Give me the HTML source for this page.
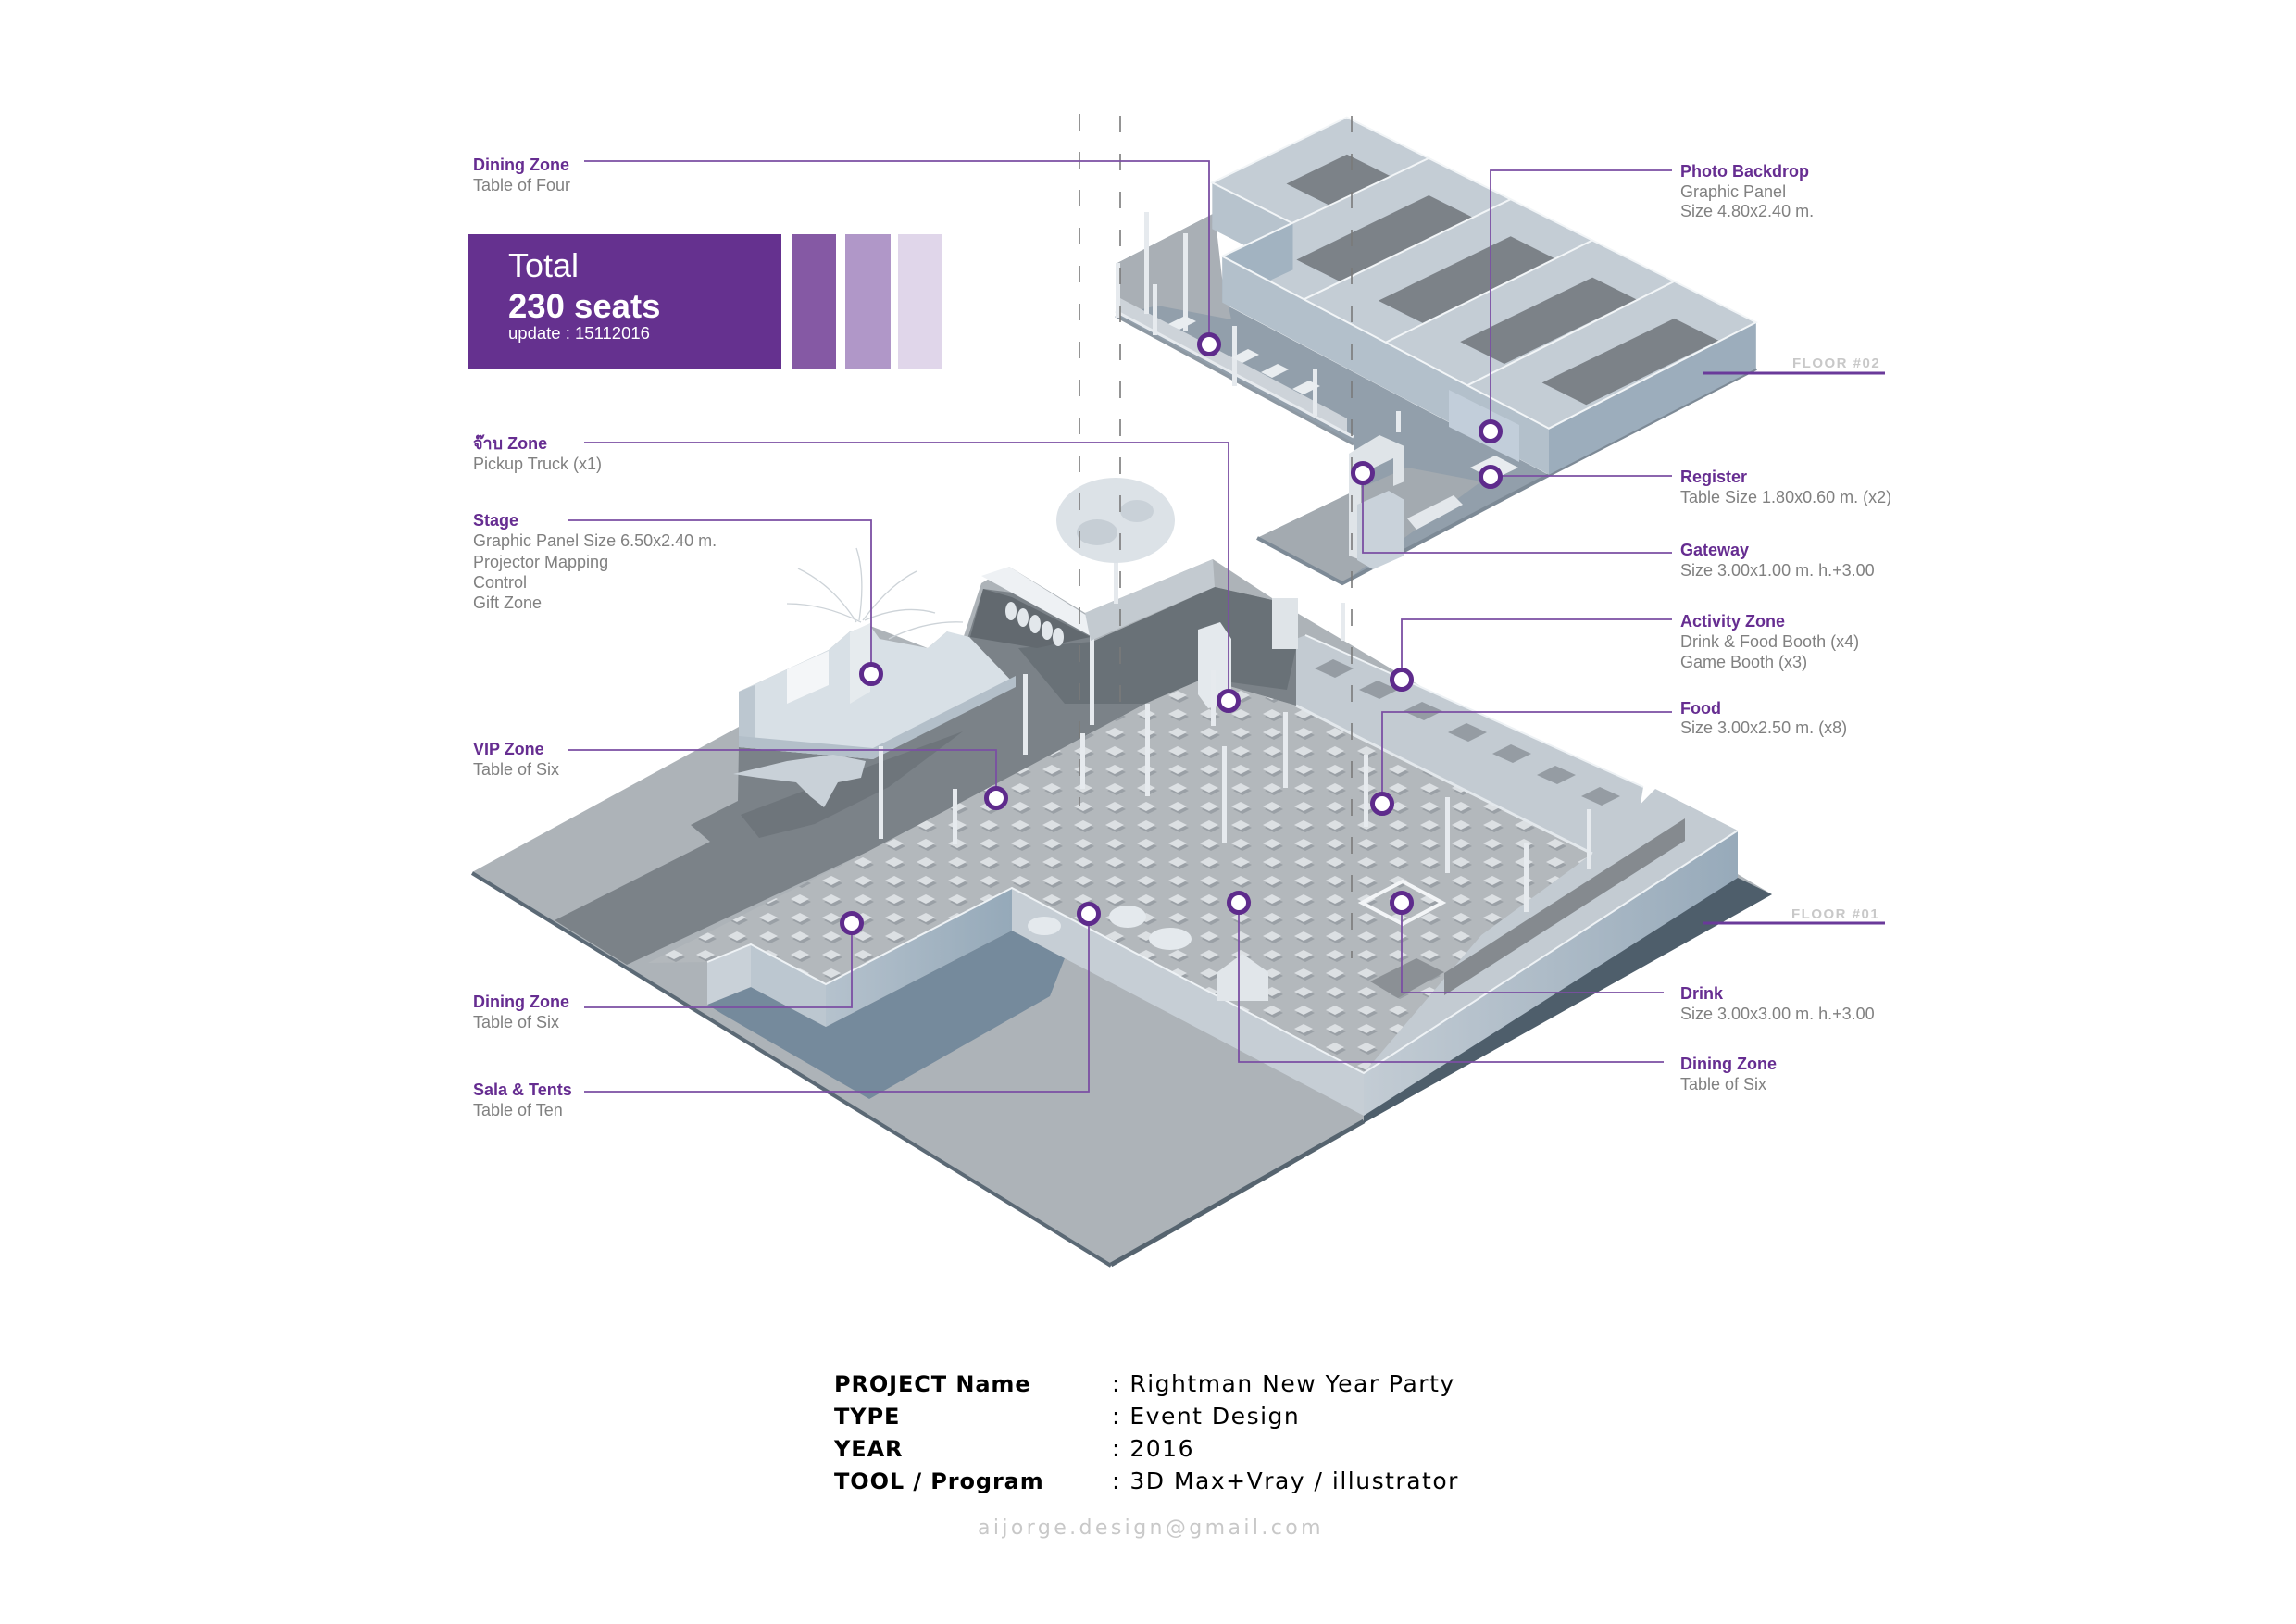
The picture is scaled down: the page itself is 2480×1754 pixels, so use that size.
<!DOCTYPE html>
<html><head><meta charset="utf-8">
<style>
html,body{margin:0;padding:0;background:#fff;}
svg{display:block;}
.lb{font-family:"Liberation Sans",Arial,sans-serif;font-weight:bold;font-size:18px;fill:#662d91;}
.ls{font-family:"Liberation Sans",Arial,sans-serif;font-size:18px;fill:#808080;}
.th{font-family:"Liberation Sans","DejaVu Sans","Noto Sans CJK SC",sans-serif;font-weight:bold;font-size:18px;fill:#662d91;}
.ld{stroke:#7b4fa3;stroke-width:1.8;fill:none;}
.dot{fill:#fff;stroke:#5e2b8c;stroke-width:5;}
.fl{font-family:"Liberation Sans",Arial,sans-serif;font-weight:bold;font-size:15px;fill:#c8c8c8;letter-spacing:1.5px;}
.pk{font-family:"DejaVu Sans","Liberation Sans",sans-serif;font-weight:bold;font-size:24px;fill:#000;letter-spacing:0.9px;}
.pv{font-family:"DejaVu Sans","Liberation Sans",sans-serif;font-size:25px;fill:#000;letter-spacing:1.5px;}
.post{fill:#e6eaee;}
</style></head><body>
<svg width="2480" height="1754" viewBox="0 0 2480 1754" xmlns="http://www.w3.org/2000/svg">
<defs>
<pattern id="tb" patternUnits="userSpaceOnUse" width="34" height="20">
<polygon points="6,14 16,9 26,14 16,19" fill="#8f969c"/>
<polygon points="4,11 14,6 24,11 14,16" fill="#eef1f4"/>
</pattern>
<linearGradient id="gfe" gradientUnits="userSpaceOnUse" x1="1473" y1="0" x2="1877" y2="0">
<stop offset="0" stop-color="#c3ccd4"/><stop offset="1" stop-color="#97aaba"/>
</linearGradient>
<linearGradient id="gfc" gradientUnits="userSpaceOnUse" x1="892" y1="0" x2="1093" y2="0">
<stop offset="0" stop-color="#b5c2cd"/><stop offset="1" stop-color="#95a9b9"/>
</linearGradient>
</defs>

<!-- ================= LOWER FLOOR ================= -->
<polygon points="510,942 798,785 798,747 895,702 918,682 940,676 1002,700 1023,682 1040,690 1060,630 1090,612 1172,662 1310,604 1374,646 1914,966 1200,1366" fill="#adb3b8"/>
<!-- dark ground between stage and event floor -->
<polygon points="599,994 677,1042 937,920 1113,827 1237,760 1300,733 1400,762 1400,690 1374,648 1312,634 1180,693 1172,670 1093,640 1062,636 1045,690 1097,740 943,820 798,807 797,865 746,891 767,909" fill="#7b8288"/>
<polygon points="1100,700 1180,693 1312,634 1374,648 1400,700 1390,745 1300,733 1237,760 1150,760" fill="#697177"/>
<polygon points="800,880 943,826 1040,790 960,850 880,890 820,905" fill="#6e757b"/>
<polygon points="1062,636 1093,645 1178,688 1120,700 1048,688" fill="#62696f"/>
<!-- event floor -->
<polygon points="700,1040 937,920 1113,827 1237,760 1300,733 1400,762 1455,790 1720,922 1600,1010 1473,1159 1093,959 892,1063 811,1020 764,1039" fill="#b3b8bc"/>
<polygon points="700,1040 937,920 1113,827 1237,760 1300,733 1400,762 1455,790 1720,922 1600,1010 1473,1159 1093,959 892,1063 811,1020 764,1039" fill="url(#tb)" opacity="0.7"/>
<!-- right zone -->
<polygon points="1473,1159 1877,897 1788,852 1720,922 1600,1010" fill="#c3cbd2"/>
<polygon points="1560,1051 1820,884 1820,908 1560,1075" fill="#858a8f"/>
<polygon points="1480,1060 1530,1035 1560,1050 1510,1078" fill="#8b9095"/>
<polygon points="1471,975 1515,952 1558,975 1515,998" fill="none" stroke="#f3f5f7" stroke-width="4"/>
<!-- booth row -->
<polygon points="1400,690 1410,686 1775,850 1770,880 1720,922 1455,790 1400,762" fill="#c3cbd2"/>
<g fill="#959ca3">
<polygon points="1420,722 1440,712 1462,722 1442,732"/>
<polygon points="1468,745 1488,735 1510,745 1490,755"/>
<polygon points="1516,768 1536,758 1558,768 1538,778"/>
<polygon points="1564,791 1584,781 1606,791 1586,801"/>
<polygon points="1612,814 1632,804 1654,814 1634,824"/>
<polygon points="1660,837 1680,827 1702,837 1682,847"/>
<polygon points="1708,860 1728,850 1750,860 1730,870"/>
</g>
<polyline points="1410,686 1775,850" stroke="#eef2f5" stroke-width="2" fill="none"/>
<polyline points="1400,762 1455,790 1720,922" stroke="#e3e8ec" stroke-width="3" fill="none"/>
<rect x="1374" y="646" width="28" height="55" fill="#dfe4e8"/>
<!-- cast shadow -->
<polygon points="764,1085 811,1066 892,1109 1093,1005 1150,1035 1134,1076 939,1187 780,1095" fill="#758a9c"/>
<!-- walls -->
<polygon points="764,1039 811,1020 811,1066 764,1085" fill="#c9d1d8"/>
<polygon points="811,1020 892,1063 892,1109 811,1066" fill="#bcc7d0"/>
<polygon points="892,1063 1093,959 1093,1005 892,1109" fill="url(#gfc)"/>
<polygon points="1093,959 1473,1159 1473,1205 1093,1005" fill="#c6ced5"/>
<polygon points="1473,1159 1877,897 1877,949 1473,1205" fill="url(#gfe)"/>
<polyline points="764,1039 811,1020 892,1063 1093,959 1473,1159 1877,897" stroke="#eef2f5" stroke-width="2" fill="none"/>
<!-- slab edges -->
<polygon points="1877,948 1914,966 1473,1213 1473,1205" fill="#4e5e6b"/>
<polyline points="1473,1211 1200,1366" stroke="#56646f" stroke-width="5" fill="none"/>
<polyline points="510,943 1200,1367" stroke="#5b6975" stroke-width="4" fill="none"/>
<!-- stage complex -->
<polygon points="798,747 895,702 918,682 940,676 950,690 1002,700 1023,682 1047,688 1097,740 943,820 798,807" fill="#d8e0e6"/>
<polygon points="798,747 815,740 815,800 798,807" fill="#bcc7d0"/>
<polygon points="798,795 943,808 1097,730 1097,742 943,820 798,807" fill="#b3bfc9"/>
<polygon points="850,723 895,703 895,740 850,760" fill="#f4f6f8"/>
<polygon points="918,683 940,673 940,747 918,760" fill="#e6ebee"/>
<g stroke="#cdd3d8" stroke-width="1.3" fill="none">
<path d="M925,672 Q900,632 862,614"/>
<path d="M928,670 Q935,622 925,592"/>
<path d="M932,670 Q960,632 990,617"/>
<path d="M930,672 Q890,652 850,652"/>
<path d="M934,670 Q975,652 1010,662"/>
<path d="M960,690 Q1000,670 1040,672"/>
</g>
<!-- dinosaur -->
<polygon points="792,836 850,822 900,815 935,822 930,840 905,845 890,872 875,860 860,845 820,840" fill="#c9d1d8"/>
<!-- bar, hedge, tree, truck -->
<polygon points="1060,622 1090,612 1182,670 1180,688" fill="#eef1f4"/>
<rect x="1177" y="686" width="5" height="97" fill="#e6eaee"/>
<g fill="#e2e7eb">
<ellipse cx="1092" cy="660" rx="6" ry="10"/><ellipse cx="1105" cy="667" rx="6" ry="10"/>
<ellipse cx="1118" cy="674" rx="6" ry="10"/><ellipse cx="1131" cy="681" rx="6" ry="10"/>
<ellipse cx="1143" cy="688" rx="6" ry="10"/>
</g>
<polygon points="1172,662 1310,604 1312,634 1178,692" fill="#c3cad0"/>
<rect x="1203" y="600" width="5" height="52" fill="#e5e9ed"/>
<ellipse cx="1205" cy="562" rx="64" ry="46" fill="#dce2e7"/>
<ellipse cx="1185" cy="575" rx="22" ry="14" fill="#c6ced5"/>
<ellipse cx="1228" cy="552" rx="18" ry="12" fill="#c9d1d8"/>
<polygon points="1294,680 1318,672 1330,690 1330,760 1305,765 1294,750" fill="#e4e9ed"/>
<!-- gazebo & umbrellas -->
<polygon points="1315,1050 1342,1030 1370,1050 1370,1081 1315,1081" fill="#e1e6ea"/>
<ellipse cx="1218" cy="990" rx="20" ry="12" fill="#e4e9ed"/>
<ellipse cx="1264" cy="1014" rx="23" ry="12" fill="#e4e9ed"/>
<ellipse cx="1128" cy="1000" rx="18" ry="10" fill="#e4e9ed"/>
<!-- posts -->
<g class="post">
<rect x="949" y="806" width="5" height="100"/><rect x="1029" y="852" width="5" height="60"/>
<rect x="1105" y="728" width="5" height="87"/><rect x="1167" y="792" width="5" height="60"/>
<rect x="1237" y="760" width="5" height="100"/><rect x="1320" y="806" width="5" height="105"/>
<rect x="1386" y="769" width="5" height="82"/><rect x="1473" y="815" width="5" height="78"/>
<rect x="1561" y="861" width="5" height="82"/><rect x="1646" y="911" width="5" height="74"/>
<rect x="1714" y="874" width="5" height="65"/><rect x="1308" y="724" width="5" height="60"/>
<rect x="1448" y="651" width="5" height="41"/>
</g>

<!-- ================= UPPER FLOOR ================= -->
<polygon points="1205,285 1312,230 1320,327 1673,513 1450,630 1358,581 1470,527 1462,480 1205,341" fill="#929fab"/>
<polygon points="1205,285 1312,230 1320,300 1330,345 1250,330 1205,341" fill="#a9afb5"/>
<polygon points="1358,581 1470,527 1520,505 1600,520 1450,630" fill="#a3aab0"/>
<polygon points="1210,322 1455,452 1455,470 1210,338" fill="#cdd3d9"/>
<polyline points="1205,336 1462,472" stroke="#e6eaee" stroke-width="3" fill="none"/>
<polyline points="1358,581 1450,630 1673,513 1897,398" stroke="#7d8a96" stroke-width="4" fill="none"/>
<polyline points="1205,341 1462,480" stroke="#8d98a2" stroke-width="3" fill="none"/>
<!-- box -->
<polygon points="1309.3,197.3 1454.8,126.6 1896.8,348.1 1673,462.7 1320.3,276.8 1396.5,241.4" fill="#c4cdd5"/>
<g fill="#7c8288">
<polygon points="1389.5,198.5 1454.9,166.7 1502.6,190.6 1437.2,222.4"/>
<polygon points="1400.4,280.5 1543.3,211.0 1591.0,234.9 1448.1,304.4"/>
<polygon points="1488.8,324.8 1631.7,255.3 1679.4,279.2 1536.5,348.7"/>
<polygon points="1577.2,369.1 1720.1,299.6 1767.8,323.5 1624.9,393.0"/>
<polygon points="1665.6,413.4 1808.5,343.9 1856.2,367.8 1713.3,437.3"/>
</g>
<polygon points="1309.3,197.3 1396.5,241.4 1396.5,291.4 1309.3,247.3" fill="#b7c3cd"/>
<polygon points="1320.3,276.8 1396.5,241.4 1396.5,291.4 1320.3,326.8" fill="#a2b3c1"/>
<polygon points="1320.3,276.8 1673,462.7 1673,512.7 1320.3,326.8" fill="#b3c0cb"/>
<polygon points="1673,462.7 1896.8,348.1 1896.8,398 1673,512.7" fill="#9cadbc"/>
<g stroke="#f2f5f7" stroke-width="2" fill="none">
<polyline points="1396.5,241.4 1309.3,197.3 1454.8,126.6 1896.8,348.1 1673,462.7 1320.3,276.8 1543.2,170.9"/>
<line x1="1408.5" y1="323.3" x2="1631.6" y2="215.2"/>
<line x1="1496.7" y1="369.8" x2="1720" y2="259.5"/>
<line x1="1584.9" y1="416.3" x2="1808.4" y2="303.8"/>
</g>
<!-- backdrop, gateway, register -->
<polygon points="1565,421 1641,459 1641,499 1565,461" fill="#c2ceda"/>
<polygon points="1588,505 1615,492 1640,505 1613,518" fill="#e8ecef"/>
<polygon points="1457,490 1490,470 1517,482 1517,520 1505,525 1505,495 1470,512 1470,605 1457,600" fill="#dfe4e8"/>
<polygon points="1466,545 1500,530 1517,540 1517,600 1483,615 1466,605" fill="#c9d2da"/>
<polygon points="1520,560 1570,535 1580,545 1530,572" fill="#e3e7eb"/>
<g class="post">
<rect x="1205" y="284" width="5" height="59"/><rect x="1236" y="229" width="5" height="110"/>
<rect x="1278" y="252" width="5" height="105"/><rect x="1245" y="307" width="5" height="55"/>
<rect x="1331" y="352" width="5" height="65"/>
<rect x="1418" y="398" width="5" height="51"/><rect x="1508" y="444" width="5" height="23"/>
</g>
<g fill="#e9edf0">
<polygon points="1262,350 1280,341 1292,347 1274,356"/>
<polygon points="1330,386 1348,377 1360,383 1342,392"/>
<polygon points="1362,402 1380,393 1392,399 1374,408"/>
<polygon points="1396,420 1414,411 1426,417 1408,426"/>
</g>

<!-- dashed guides -->
<g stroke="#7a7a7a" stroke-width="1.6" stroke-dasharray="18 23" fill="none">
<line x1="1166" y1="123" x2="1166" y2="870"/>
<line x1="1210" y1="125" x2="1210" y2="770"/>
<line x1="1460" y1="125" x2="1460" y2="1035"/>
</g>

<!-- leader lines -->
<g class="ld">
<path d="M631,174 H1306 V372"/>
<path d="M631,478 H1327 V757"/>
<path d="M613,562 H941 V728"/>
<path d="M613,810 H1076 V862"/>
<path d="M631,1088 H920 V997"/>
<path d="M631,1179 H1176 V987"/>
<path d="M1806,184 H1610 V466"/>
<path d="M1806,514 H1610"/>
<path d="M1806,597 H1472 V511"/>
<path d="M1806,669 H1514 V734"/>
<path d="M1806,769 H1493 V868"/>
<path d="M1797,1072 H1514 V975"/>
<path d="M1797,1147 H1338 V975"/>
</g>
<line x1="1839" y1="403" x2="2036" y2="403" stroke="#6a3a9a" stroke-width="3"/>
<line x1="1839" y1="997" x2="2036" y2="997" stroke="#6a3a9a" stroke-width="3"/>
<text class="fl" x="1936" y="397">FLOOR #02</text>
<text class="fl" x="1935" y="992">FLOOR #01</text>

<!-- markers -->
<g class="dot">
<circle cx="1306" cy="372" r="10.5"/><circle cx="1610" cy="466" r="10.5"/>
<circle cx="1610" cy="515" r="10.5"/><circle cx="1472" cy="511" r="10.5"/>
<circle cx="1327" cy="757" r="10.5"/><circle cx="1514" cy="734" r="10.5"/>
<circle cx="1493" cy="868" r="10.5"/><circle cx="1514" cy="975" r="10.5"/>
<circle cx="1338" cy="975" r="10.5"/><circle cx="941" cy="728" r="10.5"/>
<circle cx="1076" cy="862" r="10.5"/><circle cx="920" cy="997" r="10.5"/>
<circle cx="1176" cy="987" r="10.5"/>
</g>

<!-- Total box -->
<rect x="505" y="253" width="339" height="146" fill="#65318f"/>
<rect x="855" y="253" width="48" height="146" fill="#8559a4"/>
<rect x="913" y="253" width="49" height="146" fill="#b097c8"/>
<rect x="970" y="253" width="48" height="146" fill="#e0d6ea"/>
<text x="549" y="299" font-family="Liberation Sans, Arial, sans-serif" font-size="36" fill="#fff">Total</text>
<text x="549" y="343" font-family="Liberation Sans, Arial, sans-serif" font-size="36.5" font-weight="bold" fill="#fff">230 seats</text>
<text x="549" y="366" font-family="Liberation Sans, Arial, sans-serif" font-size="18.5" fill="#fff">update : 15112016</text>

<!-- left labels -->
<text class="lb" x="511" y="184">Dining Zone</text><text class="ls" x="511" y="206">Table of Four</text>
<text class="th" x="511" y="485">จ๊าบ Zone</text><text class="ls" x="511" y="507">Pickup Truck (x1)</text>
<text class="lb" x="511" y="568">Stage</text>
<text class="ls" x="511" y="590">Graphic Panel Size 6.50x2.40 m.</text>
<text class="ls" x="511" y="613">Projector Mapping</text>
<text class="ls" x="511" y="635">Control</text>
<text class="ls" x="511" y="657">Gift Zone</text>
<text class="lb" x="511" y="815">VIP Zone</text><text class="ls" x="511" y="837">Table of Six</text>
<text class="lb" x="511" y="1088">Dining Zone</text><text class="ls" x="511" y="1110">Table of Six</text>
<text class="lb" x="511" y="1183">Sala &amp; Tents</text><text class="ls" x="511" y="1205">Table of Ten</text>

<!-- right labels -->
<text class="lb" x="1815" y="191">Photo Backdrop</text>
<text class="ls" x="1815" y="213">Graphic Panel</text>
<text class="ls" x="1815" y="234">Size 4.80x2.40 m.</text>
<text class="lb" x="1815" y="521">Register</text>
<text class="ls" x="1815" y="543">Table Size 1.80x0.60 m. (x2)</text>
<text class="lb" x="1815" y="600">Gateway</text>
<text class="ls" x="1815" y="622">Size 3.00x1.00 m. h.+3.00</text>
<text class="lb" x="1815" y="677">Activity Zone</text>
<text class="ls" x="1815" y="699">Drink &amp; Food Booth (x4)</text>
<text class="ls" x="1815" y="721">Game Booth (x3)</text>
<text class="lb" x="1815" y="771">Food</text>
<text class="ls" x="1815" y="792">Size 3.00x2.50 m. (x8)</text>
<text class="lb" x="1815" y="1079">Drink</text>
<text class="ls" x="1815" y="1101">Size 3.00x3.00 m. h.+3.00</text>
<text class="lb" x="1815" y="1155">Dining Zone</text>
<text class="ls" x="1815" y="1177">Table of Six</text>

<!-- project info -->
<text class="pk" x="901" y="1503">PROJECT Name</text>
<text class="pk" x="901" y="1538">TYPE</text>
<text class="pk" x="901" y="1573">YEAR</text>
<text class="pk" x="901" y="1608">TOOL / Program</text>
<text class="pv" x="1201" y="1503">: Rightman New Year Party</text>
<text class="pv" x="1201" y="1538">: Event Design</text>
<text class="pv" x="1201" y="1573">: 2016</text>
<text class="pv" x="1201" y="1608">: 3D Max+Vray / illustrator</text>
<text x="1056" y="1657" font-family="DejaVu Sans, Liberation Sans, sans-serif" font-size="22" letter-spacing="3.4" fill="#c8c8c8">aijorge.design@gmail.com</text>
</svg>
</body></html>
